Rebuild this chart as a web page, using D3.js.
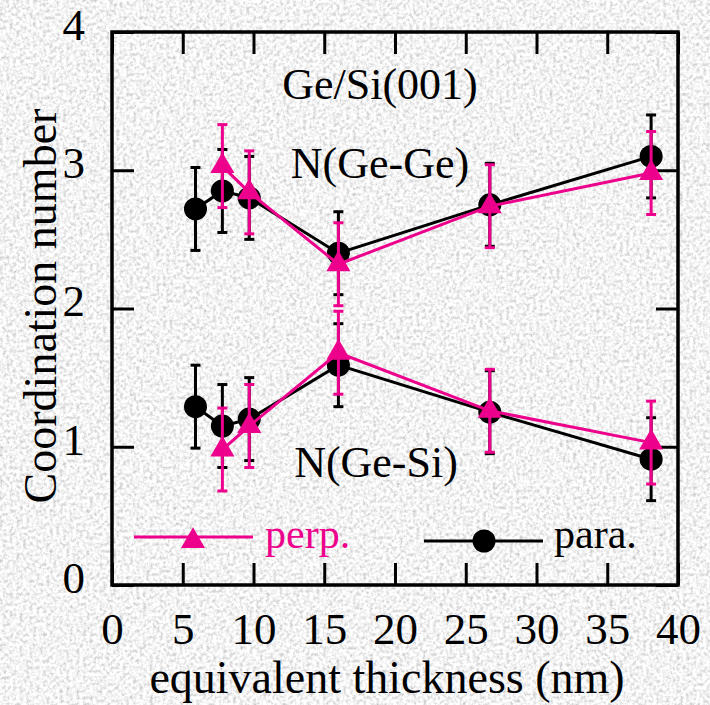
<!DOCTYPE html>
<html>
<head>
<meta charset="utf-8">
<script src="https://cdn.jsdelivr.net/npm/d3@7"></script>
<style>
  html, body { margin: 0; padding: 0; }
  body { width: 710px; height: 705px; overflow: hidden; }
  svg text { font-family: "Liberation Serif", Tinos, "Times New Roman", Times, "DejaVu Serif", serif; }
</style>
</head>
<body>
<svg id="chart" width="710" height="705"></svg>
<script>
// thickness values (nm)
const thickPara = [5.9, 7.8, 9.7, 16.0, 26.7, 38.1];
const thickPerp = [7.8, 9.7, 16.0, 26.7, 38.1];

// N(Ge-Ge)
const geGePara = [2.72, 2.85, 2.80, 2.40, 2.75, 3.10];
const geGePerp = [3.03, 2.84, 2.32, 2.74, 2.98];
// N(Ge-Si)
const geSiPara = [1.29, 1.15, 1.20, 1.59, 1.25, 0.91];
const geSiPerp = [0.98, 1.15, 1.68, 1.26, 1.03];

const errPara = [0.3, 0.3, 0.3, 0.3, 0.3, 0.3];
const errPerp = [0.3, 0.3, 0.3, 0.3, 0.3];

const xTicks = [0, 5, 10, 15, 20, 25, 30, 35, 40];
const yTicks = [0, 1, 2, 3, 4];

const pink = '#ec008c';

const svg = d3.select('#chart');

// grainy grey background
const defs = svg.append('defs');
const f = defs.append('filter').attr('id', 'grain')
  .attr('x', 0).attr('y', 0).attr('width', '100%').attr('height', '100%');
f.append('feTurbulence')
  .attr('type', 'fractalNoise')
  .attr('baseFrequency', 0.3)
  .attr('numOctaves', 3)
  .attr('seed', 4);
f.append('feColorMatrix')
  .attr('type', 'matrix')
  .attr('values', '0.9 0 0 0 0.45  0.9 0 0 0 0.45  0.9 0 0 0 0.45  0 0 0 0 1');

svg.append('rect').attr('width', 710).attr('height', 705).attr('fill', '#e2e2e2');
svg.append('rect').attr('width', 710).attr('height', 705).attr('filter', 'url(#grain)');

const plotL = 112, plotR = 678, plotT = 32, plotB = 585;

const x = d3.scaleLinear().domain([0, 40]).range([plotL, plotR]);
const y = d3.scaleLinear().domain([0, 4]).range([plotB, plotT]);

// axes, ticks pointing inward
svg.append('g')
  .attr('transform', `translate(0,${plotB})`)
  .call(d3.axisBottom(x).tickValues(xTicks).tickSizeInner(-22).tickSizeOuter(0).tickPadding(27));
svg.append('g')
  .attr('transform', `translate(0,${plotT})`)
  .call(d3.axisTop(x).tickValues(xTicks).tickSizeInner(-22).tickSizeOuter(0).tickFormat(''));
const yAxis = svg.append('g')
  .attr('transform', `translate(${plotL},0)`)
  .call(d3.axisLeft(y).tickValues(yTicks).tickFormat(d3.format('d'))
    .tickSizeInner(-22).tickSizeOuter(0).tickPadding(27));
svg.append('g')
  .attr('transform', `translate(${plotR},0)`)
  .call(d3.axisRight(y).tickValues(yTicks).tickSizeInner(-22).tickSizeOuter(0).tickFormat(''));

svg.selectAll('.domain').remove();
svg.selectAll('g').attr('font-family', null);
svg.selectAll('.tick line').attr('stroke', '#000').attr('stroke-width', 3);
svg.selectAll('.tick text').attr('fill', '#000').attr('font-size', 45);
yAxis.selectAll('.tick text').attr('y', -7);

svg.append('rect')
  .attr('x', plotL).attr('y', plotT)
  .attr('width', plotR - plotL).attr('height', plotB - plotT)
  .attr('fill', 'none').attr('stroke', '#000').attr('stroke-width', 3.5);

// axis titles
svg.append('text')
  .attr('x', 387).attr('y', 693)
  .attr('text-anchor', 'middle')
  .attr('font-size', 46)
  .text('equivalent thickness (nm)');

svg.append('text')
  .attr('transform', 'translate(56,306) rotate(-90)')
  .attr('text-anchor', 'middle')
  .attr('font-size', 46)
  .text('Coordination number');

// annotations
svg.append('text').attr('x', 380).attr('y', 99).attr('text-anchor', 'middle')
  .attr('font-size', 44).text('Ge/Si(001)');
svg.append('text').attr('x', 380).attr('y', 178).attr('text-anchor', 'middle')
  .attr('font-size', 44).text('N(Ge-Ge)');
svg.append('text').attr('x', 376).attr('y', 477).attr('text-anchor', 'middle')
  .attr('font-size', 44).text('N(Ge-Si)');

const line = d3.line().x(d => x(d[0])).y(d => y(d[1]));
const triangle = d3.symbol().type(d3.symbolTriangle).size(250);

function drawSeries(xs, vals, errs, color, marker) {
  const pts = xs.map((t, i) => [t, vals[i], errs[i]]);
  const g = svg.append('g');
  g.append('path')
    .datum(pts)
    .attr('d', line)
    .attr('fill', 'none')
    .attr('stroke', color)
    .attr('stroke-width', 3);

  const eb = g.selectAll('.err').data(pts).enter().append('g')
    .attr('stroke', color).attr('stroke-width', 3);
  eb.append('line')
    .attr('x1', d => x(d[0])).attr('x2', d => x(d[0]))
    .attr('y1', d => y(d[1] + d[2])).attr('y2', d => y(d[1] - d[2]));
  eb.append('line')
    .attr('x1', d => x(d[0]) - 5).attr('x2', d => x(d[0]) + 5)
    .attr('y1', d => y(d[1] + d[2])).attr('y2', d => y(d[1] + d[2]));
  eb.append('line')
    .attr('x1', d => x(d[0]) - 5).attr('x2', d => x(d[0]) + 5)
    .attr('y1', d => y(d[1] - d[2])).attr('y2', d => y(d[1] - d[2]));

  if (marker === 'circle') {
    g.selectAll('circle').data(pts).enter().append('circle')
      .attr('cx', d => x(d[0])).attr('cy', d => y(d[1]))
      .attr('r', 11.5).attr('fill', color);
  } else {
    g.selectAll('.tri').data(pts).enter().append('path')
      .attr('d', triangle)
      .attr('transform', d => `translate(${x(d[0])},${y(d[1])})`)
      .attr('fill', color);
  }
}

drawSeries(thickPara, geGePara, errPara, '#000', 'circle');
drawSeries(thickPara, geSiPara, errPara, '#000', 'circle');
drawSeries(thickPerp, geGePerp, errPerp, pink, 'triangle');
drawSeries(thickPerp, geSiPerp, errPerp, pink, 'triangle');

// legend
const lg = svg.append('g');
lg.append('line').attr('x1', 134).attr('x2', 253).attr('y1', 537).attr('y2', 537)
  .attr('stroke', pink).attr('stroke-width', 3);
lg.append('path').attr('d', triangle).attr('transform', 'translate(193,541)').attr('fill', pink);
lg.append('text').attr('x', 265).attr('y', 548).attr('fill', pink)
  .attr('font-size', 42).text('perp.');

lg.append('line').attr('x1', 424).attr('x2', 543).attr('y1', 541).attr('y2', 541)
  .attr('stroke', '#000').attr('stroke-width', 3);
lg.append('circle').attr('cx', 484).attr('cy', 541).attr('r', 11.5).attr('fill', '#000');
lg.append('text').attr('x', 554).attr('y', 548)
  .attr('font-size', 42).text('para.');
</script>
</body>
</html>
